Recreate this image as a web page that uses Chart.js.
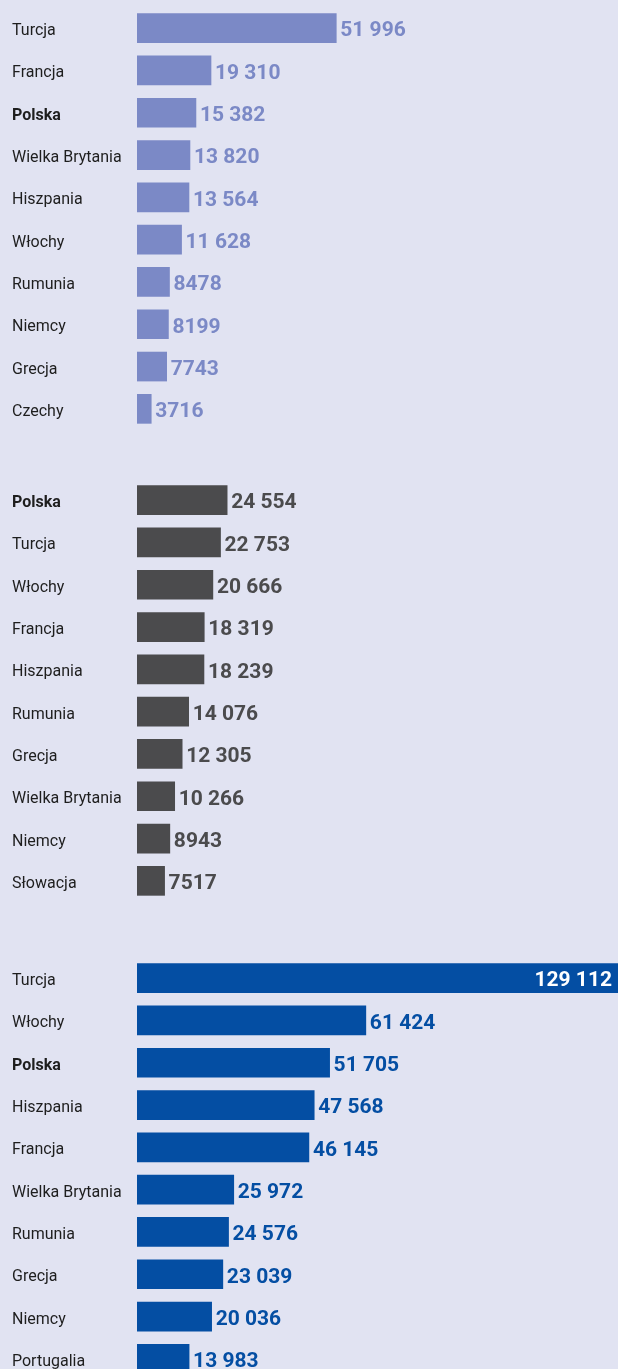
<!DOCTYPE html>
<html lang="pl">
<head>
<meta charset="utf-8">
<title>Porównanie krajów</title>
<script src="https://cdn.jsdelivr.net/npm/chart.js@4.4.1/dist/chart.umd.min.js"></script>
<style>
  html, body {
    margin: 0;
    padding: 0;
    background: #e1e3f2;
    width: 618px;
    height: 1369px;
    overflow: hidden;
  }
  .panel {
    position: absolute;
    left: 0;
    width: 618px;
    height: 423px;
  }
  #panel1 { top: 7px; }
  #panel2 { top: 479px; }
  #panel3 { top: 957px; }
</style>
</head>
<body>

<div class="panel" id="panel1"><canvas id="chart1"></canvas></div>
<div class="panel" id="panel2"><canvas id="chart2"></canvas></div>
<div class="panel" id="panel3"><canvas id="chart3"></canvas></div>

<script>
// Dane
const labels1 = ['Turcja', 'Francja', 'Polska', 'Wielka Brytania', 'Hiszpania', 'Włochy', 'Rumunia', 'Niemcy', 'Grecja', 'Czechy'];
const values1 = [51996, 19310, 15382, 13820, 13564, 11628, 8478, 8199, 7743, 3716];

const labels2 = ['Polska', 'Turcja', 'Włochy', 'Francja', 'Hiszpania', 'Rumunia', 'Grecja', 'Wielka Brytania', 'Niemcy', 'Słowacja'];
const values2 = [24554, 22753, 20666, 18319, 18239, 14076, 12305, 10266, 8943, 7517];

const labels3 = ['Turcja', 'Włochy', 'Polska', 'Hiszpania', 'Francja', 'Wielka Brytania', 'Rumunia', 'Grecja', 'Niemcy', 'Portugalia'];
const values3 = [129112, 61424, 51705, 47568, 46145, 25972, 24576, 23039, 20036, 13983];

// Formatowanie: spacja jako separator tysięcy od 10 000
function formatValue(v) {
  if (v < 10000) return String(v);
  return String(v).replace(/\B(?=(\d{3})+(?!\d))/g, ' ');
}

// Etykiety wartości na końcu słupków
const valueLabels = {
  id: 'valueLabels',
  afterDatasetsDraw(chart, args, opts) {
    const { ctx, chartArea } = chart;
    const meta = chart.getDatasetMeta(0);
    const data = chart.data.datasets[0].data;
    ctx.save();
    ctx.font = 'bold 21px Roboto';
    ctx.textBaseline = 'middle';
    meta.data.forEach((bar, i) => {
      const text = formatValue(data[i]);
      const w = ctx.measureText(text).width;
      if (bar.x + 4 + w > chartArea.right) {
        ctx.fillStyle = '#ffffff';
        ctx.textAlign = 'right';
        ctx.fillText(text, chartArea.right - 6, bar.y + 3);
      } else {
        ctx.fillStyle = opts.color;
        ctx.textAlign = 'left';
        ctx.fillText(text, bar.x + 4, bar.y + 3);
      }
    });
    ctx.restore();
  }
};

function makeChart(id, labels, values, color, textColor, xMax) {
  return new Chart(document.getElementById(id), {
    type: 'bar',
    data: {
      labels: labels,
      datasets: [{
        data: values,
        backgroundColor: color,
        borderWidth: 0,
        barThickness: 29
      }]
    },
    options: {
      indexAxis: 'y',
      responsive: true,
      maintainAspectRatio: false,
      animation: false,
      layout: { padding: { left: 12, right: 0, top: 0, bottom: 0 } },
      plugins: {
        legend: { display: false },
        tooltip: { enabled: false },
        valueLabels: { color: textColor }
      },
      scales: {
        x: {
          display: false,
          min: 0,
          max: xMax
        },
        y: {
          grid: { display: false, drawTicks: false },
          border: { display: false },
          afterFit: scale => {
            scale.width = 125;
            scale.paddingTop = 0;
            scale.paddingBottom = 0;
          },
          ticks: {
            crossAlign: 'far',
            color: '#1e1e1e',
            padding: 0,
            labelOffset: 3,
            font: ctx => ({
              family: 'Roboto',
              size: 16,
              weight: ctx.tick && ctx.tick.label === 'Polska' ? 'bold' : 'normal'
            })
          }
        }
      }
    },
    plugins: [valueLabels]
  });
}

makeChart('chart1', labels1, values1, '#7b89c6', '#7b89c6', 125500);
makeChart('chart2', labels2, values2, '#4b4b4d', '#4b4b4d', 131000);
makeChart('chart3', labels3, values3, '#044ea3', '#044ea3', 129112);
</script>
</body>
</html>
